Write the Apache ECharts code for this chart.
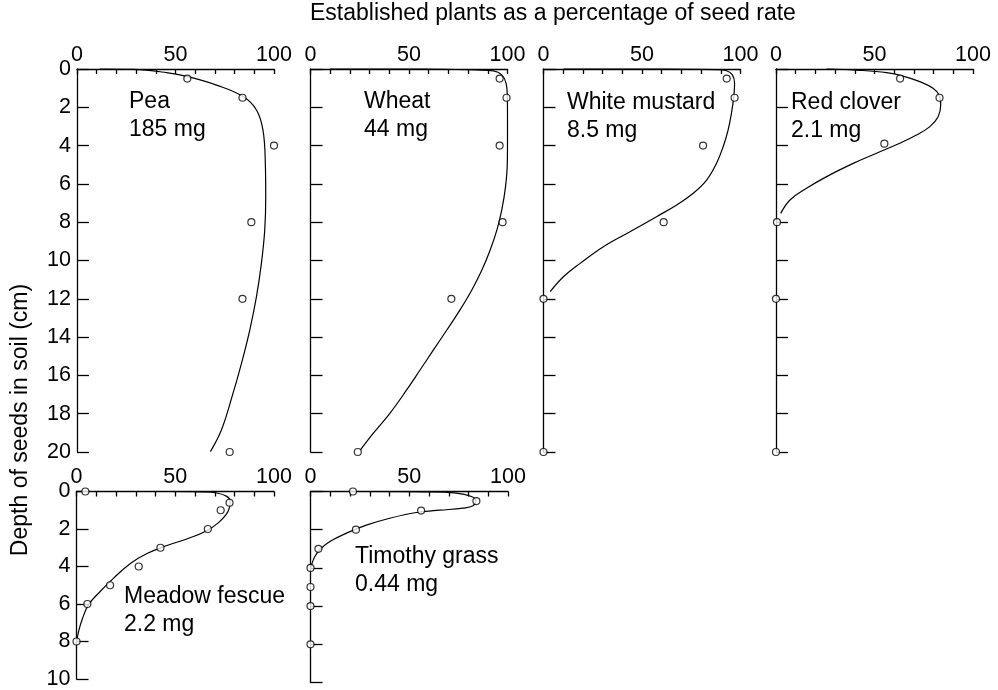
<!DOCTYPE html>
<html>
<head>
<meta charset="utf-8">
<script src="https://cdn.jsdelivr.net/npm/echarts@6/dist/echarts.min.js"></script>
<style>
  html, body { margin: 0; padding: 0; background: #fff; }
  #chart { width: 998px; height: 690px; }
</style>
</head>
<body>
<div id="chart"></div>
<script>
// ---------- data ----------
const xTickLabels = [0, 50, 100];
const titleText = 'Established plants as a percentage of seed rate';
const yAxisName = 'Depth of seeds in soil (cm)';

const speciesNames = ['Pea', 'Wheat', 'White mustard', 'Red clover', 'Meadow fescue', 'Timothy grass'];
const seedMasses = ['185 mg', '44 mg', '8.5 mg', '2.1 mg', '2.2 mg', '0.44 mg'];
const depthMax = [20, 20, 20, 20, 10, 10];

// observed points: depth (cm) and established plants (%)
const peaDepth = [0.5, 1.5, 4, 8, 12, 20];
const peaPct = [56, 84, 100, 88.5, 84, 77.5];
const wheatDepth = [0.5, 1.5, 4, 8, 12, 20];
const wheatPct = [96, 99.5, 96, 97.5, 71.5, 24];
const mustardDepth = [0.5, 1.5, 4, 8, 12, 20];
const mustardPct = [93, 97, 81, 61, 0, 0];
const cloverDepth = [0.5, 1.5, 3.9, 8, 12, 20];
const cloverPct = [63, 83, 55, 0.5, 0, 0];
const fescueDepth = [0, 0.6, 1, 2, 3, 4, 5, 6, 8];
const fescuePct = [4.5, 77.5, 73, 66.5, 42.5, 31.5, 17, 5.5, 0];
const timothyDepth = [0, 0.5, 1, 2, 3, 4, 5, 6, 8];
const timothyPct = [21.5, 84, 56, 23, 4, 0, 0, 0, 0];

const peaCurveDepth = [0, 0.02, 0.19, 0.4, 0.84, 1.45, 2.14, 3.19, 4.93, 6.67, 8.41, 10.15, 11.89, 13.63, 15.37, 17.11, 18.85, 19.98];
const peaCurvePct = [11.5, 28.4, 45.4, 56.3, 70.8, 84.5, 91.1, 94.4, 95.6, 95.8, 95.3, 93.6, 91.1, 87.7, 83.5, 78.7, 73.3, 67.7];
const wheatCurveDepth = [0, 0, 0.05, 0.1, 0.31, 0.75, 1.44, 2.49, 3.71, 4.93, 6.14, 7.36, 8.41, 9.45, 10.5, 11.54, 12.58, 13.63, 14.67, 15.72, 16.76, 17.98, 19.02, 19.93];
const wheatCurvePct = [9.8, 57.3, 84.4, 92.9, 97.1, 99.3, 99.9, 100, 100, 99.9, 99, 97.1, 94.6, 91.2, 87, 81.9, 75.9, 69.2, 62.4, 55.6, 48.8, 40.3, 31.9, 25.1];
const mustardCurveDepth = [0, 0, 0.03, 0.09, 0.31, 0.75, 1.44, 2.31, 3.19, 4.06, 4.93, 5.8, 6.49, 7.1, 7.71, 8.5, 9.28, 10.15, 10.85, 11.63];
const mustardCurvePct = [10.1, 60.8, 87.8, 92.9, 95.9, 97, 96.6, 95.4, 93.7, 91.2, 87.8, 82.8, 76, 67.6, 57.4, 43.9, 30.4, 18.6, 10.1, 3.4];
const cloverCurveDepth = [0, 0.07, 0.19, 0.37, 0.66, 1.01, 1.36, 1.88, 2.49, 3.01, 3.45, 3.88, 4.4, 4.93, 5.62, 6.23, 6.84, 7.54];
const cloverCurvePct = [25.7, 42.6, 56.1, 64.5, 73, 79.7, 82.8, 83.6, 82.3, 78.1, 71.3, 62.8, 51, 39.2, 25.7, 15.5, 7.1, 2.4];
const fescueCurveDepth = [0, 0, 0.02, 0.08, 0.26, 0.52, 0.87, 1.22, 1.66, 2.09, 2.53, 2.88, 3.31, 3.84, 4.62, 5.32, 6.02, 6.81, 7.41, 8.03];
const fescueCurvePct = [30, 45.8, 62.6, 71, 76.1, 77.8, 77.4, 75.8, 71.9, 66, 55.9, 45.8, 35.7, 27.3, 18.8, 12.1, 6.2, 2.9, 1.2, 0];
const timothyCurveDepth = [0, 0.02, 0.08, 0.26, 0.49, 0.75, 0.87, 0.98, 1.1, 1.4, 1.76, 2.18, 2.62, 3.05, 3.4, 3.84, 4.05];
const timothyCurvePct = [23.3, 57, 73.9, 81.5, 83.7, 82.3, 77.2, 65.4, 53.6, 40.1, 28.3, 18.2, 9.8, 4.7, 2.2, 0.5, 0];

// ---------- build ----------
const pointsDepth = [peaDepth, wheatDepth, mustardDepth, cloverDepth, fescueDepth, timothyDepth];
const pointsPct = [peaPct, wheatPct, mustardPct, cloverPct, fescuePct, timothyPct];
const curvesDepth = [peaCurveDepth, wheatCurveDepth, mustardCurveDepth, cloverCurveDepth, fescueCurveDepth, timothyCurveDepth];
const curvesPct = [peaCurvePct, wheatCurvePct, mustardCurvePct, cloverCurvePct, fescueCurvePct, timothyCurvePct];

const gridBoxes = [
  { left: 77, top: 69, width: 197, height: 383 },
  { left: 310.5, top: 69, width: 197, height: 383 },
  { left: 543.5, top: 69, width: 197, height: 383 },
  { left: 776, top: 69, width: 197, height: 383 },
  { left: 76.5, top: 491.5, width: 197.5, height: 191 },
  { left: 310.5, top: 491.5, width: 197.5, height: 191 }
];
const showYLabels = [true, false, false, false, true, false];
const annotPos = [[129, 88], [364, 88], [567, 89], [791, 89], [124, 583], [355, 543]];

const FONT = '"Liberation Sans", Arial, Helvetica, sans-serif';
const lineStyle = { color: '#000', width: 1.3 };

const grids = [], xAxes = [], yAxes = [], series = [], graphics = [];
gridBoxes.forEach((g, i) => {
  grids.push(Object.assign({ containLabel: false }, g));
  xAxes.push({
    type: 'value', gridIndex: i, position: 'top', min: 0, max: 100, interval: 10,
    axisLine: { show: true, lineStyle: lineStyle },
    axisTick: { show: true, inside: true, length: 5, lineStyle: lineStyle },
    axisLabel: {
      show: true, margin: 3, color: '#000', fontSize: 21.5, fontFamily: FONT,
      formatter: v => (xTickLabels.indexOf(v) >= 0 ? String(v) : '')
    },
    splitLine: { show: false }
  });
  yAxes.push({
    type: 'value', gridIndex: i, inverse: true, min: 0, max: depthMax[i], interval: 2,
    axisLine: { show: true, lineStyle: lineStyle },
    axisTick: { show: true, inside: true, length: 12, lineStyle: lineStyle },
    axisLabel: { show: showYLabels[i], margin: 6, color: '#000', fontSize: 21.5, fontFamily: FONT },
    splitLine: { show: false }
  });
  series.push({
    type: 'line', xAxisIndex: i, yAxisIndex: i, smooth: 0.4, symbol: 'none', clip: false,
    lineStyle: { color: '#000', width: 1.2 }, silent: true, z: 2,
    data: curvesPct[i].map((v, k) => [v, curvesDepth[i][k]])
  });
  series.push({
    type: 'scatter', xAxisIndex: i, yAxisIndex: i, symbol: 'circle', symbolSize: 7, clip: false,
    itemStyle: { color: '#fff', borderColor: '#000', borderWidth: 1.2 }, z: 3,
    data: pointsPct[i].map((v, k) => [v, pointsDepth[i][k]])
  });
  graphics.push({
    type: 'text', left: annotPos[i][0], top: annotPos[i][1],
    style: { text: speciesNames[i] + '\n' + seedMasses[i], font: '23px ' + FONT, fill: '#000', lineHeight: 28 }
  });
});

graphics.push({
  type: 'text', left: 310, top: 2,
  style: { text: titleText, font: '23px ' + FONT, fill: '#000' }
});
graphics.push({
  type: 'text', x: 21, y: 420, rotation: Math.PI / 2,
  style: { text: yAxisName, font: '23px ' + FONT, fill: '#000', align: 'center', verticalAlign: 'middle' }
});

const chart = echarts.init(document.getElementById('chart'), null, { renderer: 'canvas' });
chart.setOption({
  animation: false,
  backgroundColor: '#fff',
  grid: grids, xAxis: xAxes, yAxis: yAxes, series: series, graphic: graphics
});
</script>
</body>
</html>
